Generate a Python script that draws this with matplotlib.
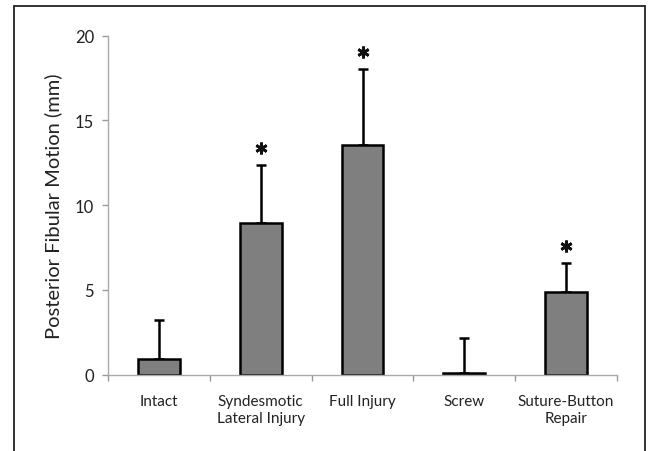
import matplotlib
matplotlib.use("Agg")
import matplotlib.pyplot as plt
from matplotlib.patches import Rectangle

categories = ["Intact", "Syndesmotic\nLateral Injury", "Full Injury", "Screw", "Suture-Button\nRepair"]
means = [0.93, 8.93, 13.55, 0.12, 4.86]
sd_upper = [2.32, 3.46, 4.49, 2.03, 1.73]
significant = [False, True, True, False, True]
yticks = [0, 5, 10, 15, 20]

plt.rcParams['font.family'] = ['Lato', 'DejaVu Sans']

fig = plt.figure(figsize=(6.48, 4.52), dpi=100)
# outer frame
fig.patches.append(Rectangle((14/648, -0.01), (645-14)/648, 1 - 7/452 + 0.01,
                             transform=fig.transFigure, fill=False,
                             edgecolor='#222222', linewidth=1.3))

ax = fig.add_axes([108/648, 1 - 375.7/452, (617-108)/648, (375.7-36.7)/452])
x = list(range(len(categories)))
ax.bar(x, means, width=0.41, color='#7f7f7f', edgecolor='black', linewidth=1.8, zorder=2)
ax.errorbar(x, means, yerr=[[0]*len(means), sd_upper], fmt='none', ecolor='black',
            elinewidth=1.8, capsize=3.5, capthick=1.8, zorder=1)
for xi, m, s, sig in zip(x, means, sd_upper, significant):
    if sig:
        ax.plot(xi, m + s + 1.0, marker=(6, 2, 0), markersize=8.5, mew=2.0,
                color='#111111', clip_on=False, zorder=3)

ax.set_xlim(-0.5, len(categories) - 0.5)
ax.set_ylim(0, 20)
ax.set_yticks(yticks)
ax.set_yticklabels([str(t) for t in yticks], fontsize=12, color='#222222')
ax.set_xticks(x)
ax.set_xticklabels(categories, fontsize=11, color='#222222', linespacing=1.3)
ax.tick_params(axis='x', length=0, pad=14)
ax.set_xticks([i - 0.5 for i in range(len(categories) + 1)], minor=True)
ax.tick_params(axis='x', which='minor', length=4, color='#999999', width=1)
ax.tick_params(axis='y', length=4, color='#999999', width=1, pad=6)
for s in ['top', 'right']:
    ax.spines[s].set_visible(False)
for s in ['left', 'bottom']:
    ax.spines[s].set_color('#aaaaaa')
    ax.spines[s].set_linewidth(1)
ax.set_ylabel("Posterior Fibular Motion (mm)", fontsize=14.5, color='#222222', labelpad=9)

fig.savefig("out.png", dpi=100)
